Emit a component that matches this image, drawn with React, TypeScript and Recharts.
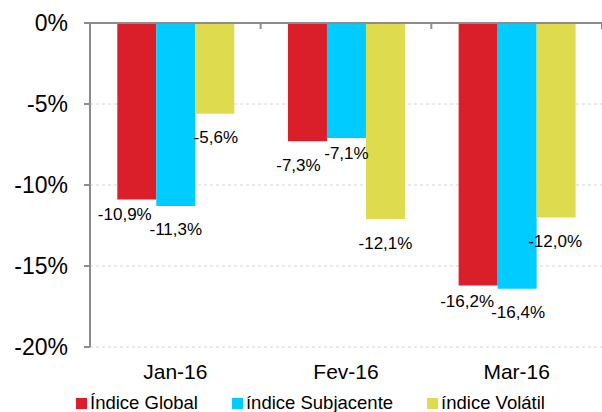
import React from 'react';
import { BarChart, Bar, XAxis, YAxis, CartesianGrid, LabelList } from 'recharts';

const months = ['Jan-16', 'Fev-16', 'Mar-16'];
const globalValues = [-10.9, -7.3, -16.2];
const subjacenteValues = [-11.3, -7.1, -16.4];
const volatilValues = [-5.6, -12.1, -12.0];
const yTicks = [0, -5, -10, -15, -20];

const seriesNames = ['Índice Global', 'índice Subjacente', 'índice Volátil'];
const seriesKeys = ['global', 'subjacente', 'volatil'];
const seriesColors = ['#DA1F2A', '#00CCFF', '#DEDC4E'];

// small hand nudges so labels sit where Excel put them
const labelNudge: Record<string, { dx: number; dy: number }[]> = {
  global: [{ dx: -12, dy: 15 }, { dx: -9, dy: 24 }, { dx: -11, dy: 16 }],
  subjacente: [{ dx: 0, dy: 23 }, { dx: 0, dy: 15 }, { dx: 1, dy: 24 }],
  volatil: [{ dx: 1, dy: 24 }, { dx: 0, dy: 24 }, { dx: -1, dy: 24 }],
};

const chartData = months.map((month, i) => ({
  month,
  global: globalValues[i],
  subjacente: subjacenteValues[i],
  volatil: volatilValues[i],
}));

const FONT = '"Liberation Sans", Arial, sans-serif';
const AXIS_GRAY = '#8C8C8C';
const CHART_W = 602;
const CHART_H = 412;
const Y_AXIS_W = 90;

const formatPct = (v: number) => `${v.toFixed(1).replace('.', ',')}%`;

const makeLabel = (key: string) => (props: any) => {
  const { x, y, width, height, value, index } = props;
  const nudge = labelNudge[key][index] || { dx: 0, dy: 20 };
  const bottom = Math.max(Number(y), Number(y) + Number(height));
  return (
    <text
      x={Number(x) + Number(width) / 2 + nudge.dx}
      y={bottom + nudge.dy}
      textAnchor="middle"
      dominantBaseline="central"
      fontSize={17}
      fontFamily={FONT}
      fill="#000"
    >
      {formatPct(Number(value))}
    </text>
  );
};

// tick marks on the zero line sit between the categories
const halfBand = (CHART_W - Y_AXIS_W) / months.length / 2;
const BoundaryTick = (props: any) => {
  const { x, y } = props;
  const bx = Number(x) + halfBand;
  const top = Number(y);
  return (
    <g>
      <line x1={bx} y1={top} x2={bx} y2={top + 6} stroke={AXIS_GRAY} strokeWidth={2} />
    </g>
  );
};

const App: React.FC = () => {
  return (
    <div
      style={{
        position: 'absolute',
        left: 0,
        top: 0,
        width: CHART_W,
        height: CHART_H,
        overflow: 'hidden',
        background: '#fff',
        fontFamily: FONT,
      }}
    >
      <BarChart
        width={CHART_W}
        height={CHART_H}
        data={chartData}
        margin={{ top: 22, right: 0, left: 0, bottom: 0 }}
        barCategoryGap="16%"
        barGap={0}
      >
        <CartesianGrid vertical={false} strokeDasharray="3 3" stroke="#D4D4D4" />
        <XAxis
          dataKey="month"
          height={65}
          axisLine={false}
          tickLine={false}
          tickSize={0}
          tickMargin={17}
          tick={{ fill: '#000', fontSize: 21, fontFamily: FONT }}
        />
        <XAxis
          xAxisId="top"
          dataKey="month"
          orientation="top"
          height={1}
          axisLine={{ stroke: AXIS_GRAY, strokeWidth: 2 }}
          tickLine={false}
          tickSize={0}
          tickMargin={0}
          tick={BoundaryTick}
        />
        <YAxis
          width={Y_AXIS_W}
          domain={[-20, 0]}
          ticks={yTicks}
          interval={0}
          tickFormatter={(v) => `${v}%`}
          axisLine={{ stroke: AXIS_GRAY, strokeWidth: 2 }}
          tickLine={{ stroke: AXIS_GRAY, strokeWidth: 2 }}
          tickSize={6}
          tickMargin={16}
          tick={{ fill: '#000', fontSize: 23, fontFamily: FONT }}
        />
        {seriesKeys.map((key, i) => (
          <Bar key={key} dataKey={key} name={seriesNames[i]} fill={seriesColors[i]} isAnimationActive={false}>
            <LabelList dataKey={key} content={makeLabel(key)} />
          </Bar>
        ))}
      </BarChart>
      <div
        style={{
          position: 'absolute',
          left: 76,
          top: 393,
          display: 'flex',
          fontSize: 18.5,
          lineHeight: '20px',
          color: '#000',
          whiteSpace: 'nowrap',
        }}
      >
        {seriesNames.map((name, i) => (
          <span key={name} style={{ marginRight: 34 }}>
            <span
              style={{
                display: 'inline-block',
                width: 11,
                height: 11,
                background: seriesColors[i],
                marginRight: 3,
              }}
            />
            {name}
          </span>
        ))}
      </div>
    </div>
  );
};

export default App;
